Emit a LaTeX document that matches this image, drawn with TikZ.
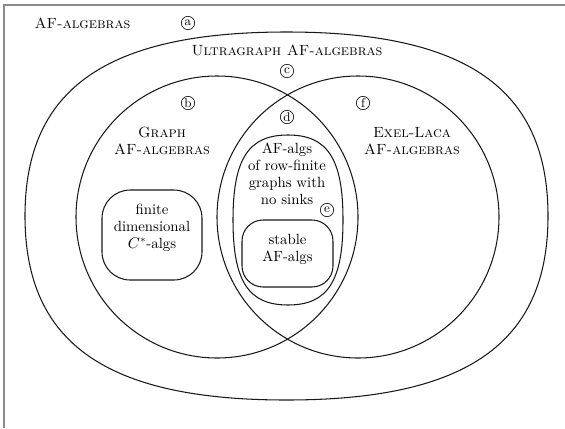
\documentclass[tikz,border=0pt]{standalone}
\usetikzlibrary{positioning}
\begin{document}
\begin{tikzpicture}[x=0.025cm,y=-0.025cm,
  font=\fontsize{10.5pt}{12pt}\selectfont,
  set/.style={draw=black!90,line width=0.75pt},
  title/.style={align=center,inner sep=0pt},
  tag/.style={circle,draw=black!90,line width=0.5pt,inner sep=0pt,
              minimum size=9.5pt,font=\small}]
\useasboundingbox (0,0) rectangle (565,428);
% frame
\draw[black!45,line width=1.4pt] (4,428) -- (4,5) -- (565,5);
% ultragraph AF-algebras
\draw[set] (286.5,32) .. controls (467,32) and (548,89) .. (548,216)
  .. controls (548,343) and (467,400) .. (286.5,400)
  .. controls (106,400) and (25,343) .. (25,216)
  .. controls (25,89) and (106,32) .. (286.5,32) -- cycle;
% graph and Exel-Laca
\draw[set] (217,217) circle[radius=141];
\draw[set] (358,217) circle[radius=141];
% row-finite, no sinks
\draw[set] (288,135) .. controls (327.6,135) and (343,158.8) .. (343,220)
  .. controls (343,281.2) and (327.6,305) .. (288,305)
  .. controls (248.4,305) and (233,281.2) .. (233,220)
  .. controls (233,158.8) and (248.4,135) .. (288,135) -- cycle;
% inner boxes
\draw[set,rounded corners=20pt] (102,190) rectangle (202,280);
\draw[set,rounded corners=15pt] (242,220) rectangle (333,287);
% texts
\node[anchor=base] (af) at (82.5,28.5) {\textsc{AF-algebras}};
\node[anchor=base] (ultra) at (287,55) {\textsc{Ultragraph AF-algebras}};
\node[title] (graph) at (162,141) {\textsc{Graph}\\\textsc{AF-algebras}};
\node[title] (exel) at (412,141) {\textsc{Exel-Laca}\\\textsc{AF-algebras}};
\node[title] (rowfin) at (287,174) {AF-algs\\of row-finite\\graphs with\\no sinks};
\node[title] (findim) at (152,228) {finite\\dimensional\\$C^*$-algs};
\node[title] (stable) at (287.5,249) {stable\\AF-algs};
% region tags
\node[tag] (ta) at (188,23) {a};
\node[tag] (tb) at (188,103) {b};
\node[tag] (tc) at (287,71) {c};
\node[tag] (td) at (287,117) {d};
\node[tag] (te) at (327,210) {e};
\node[tag] (tf) at (363,103) {f};
\end{tikzpicture}
\end{document}
